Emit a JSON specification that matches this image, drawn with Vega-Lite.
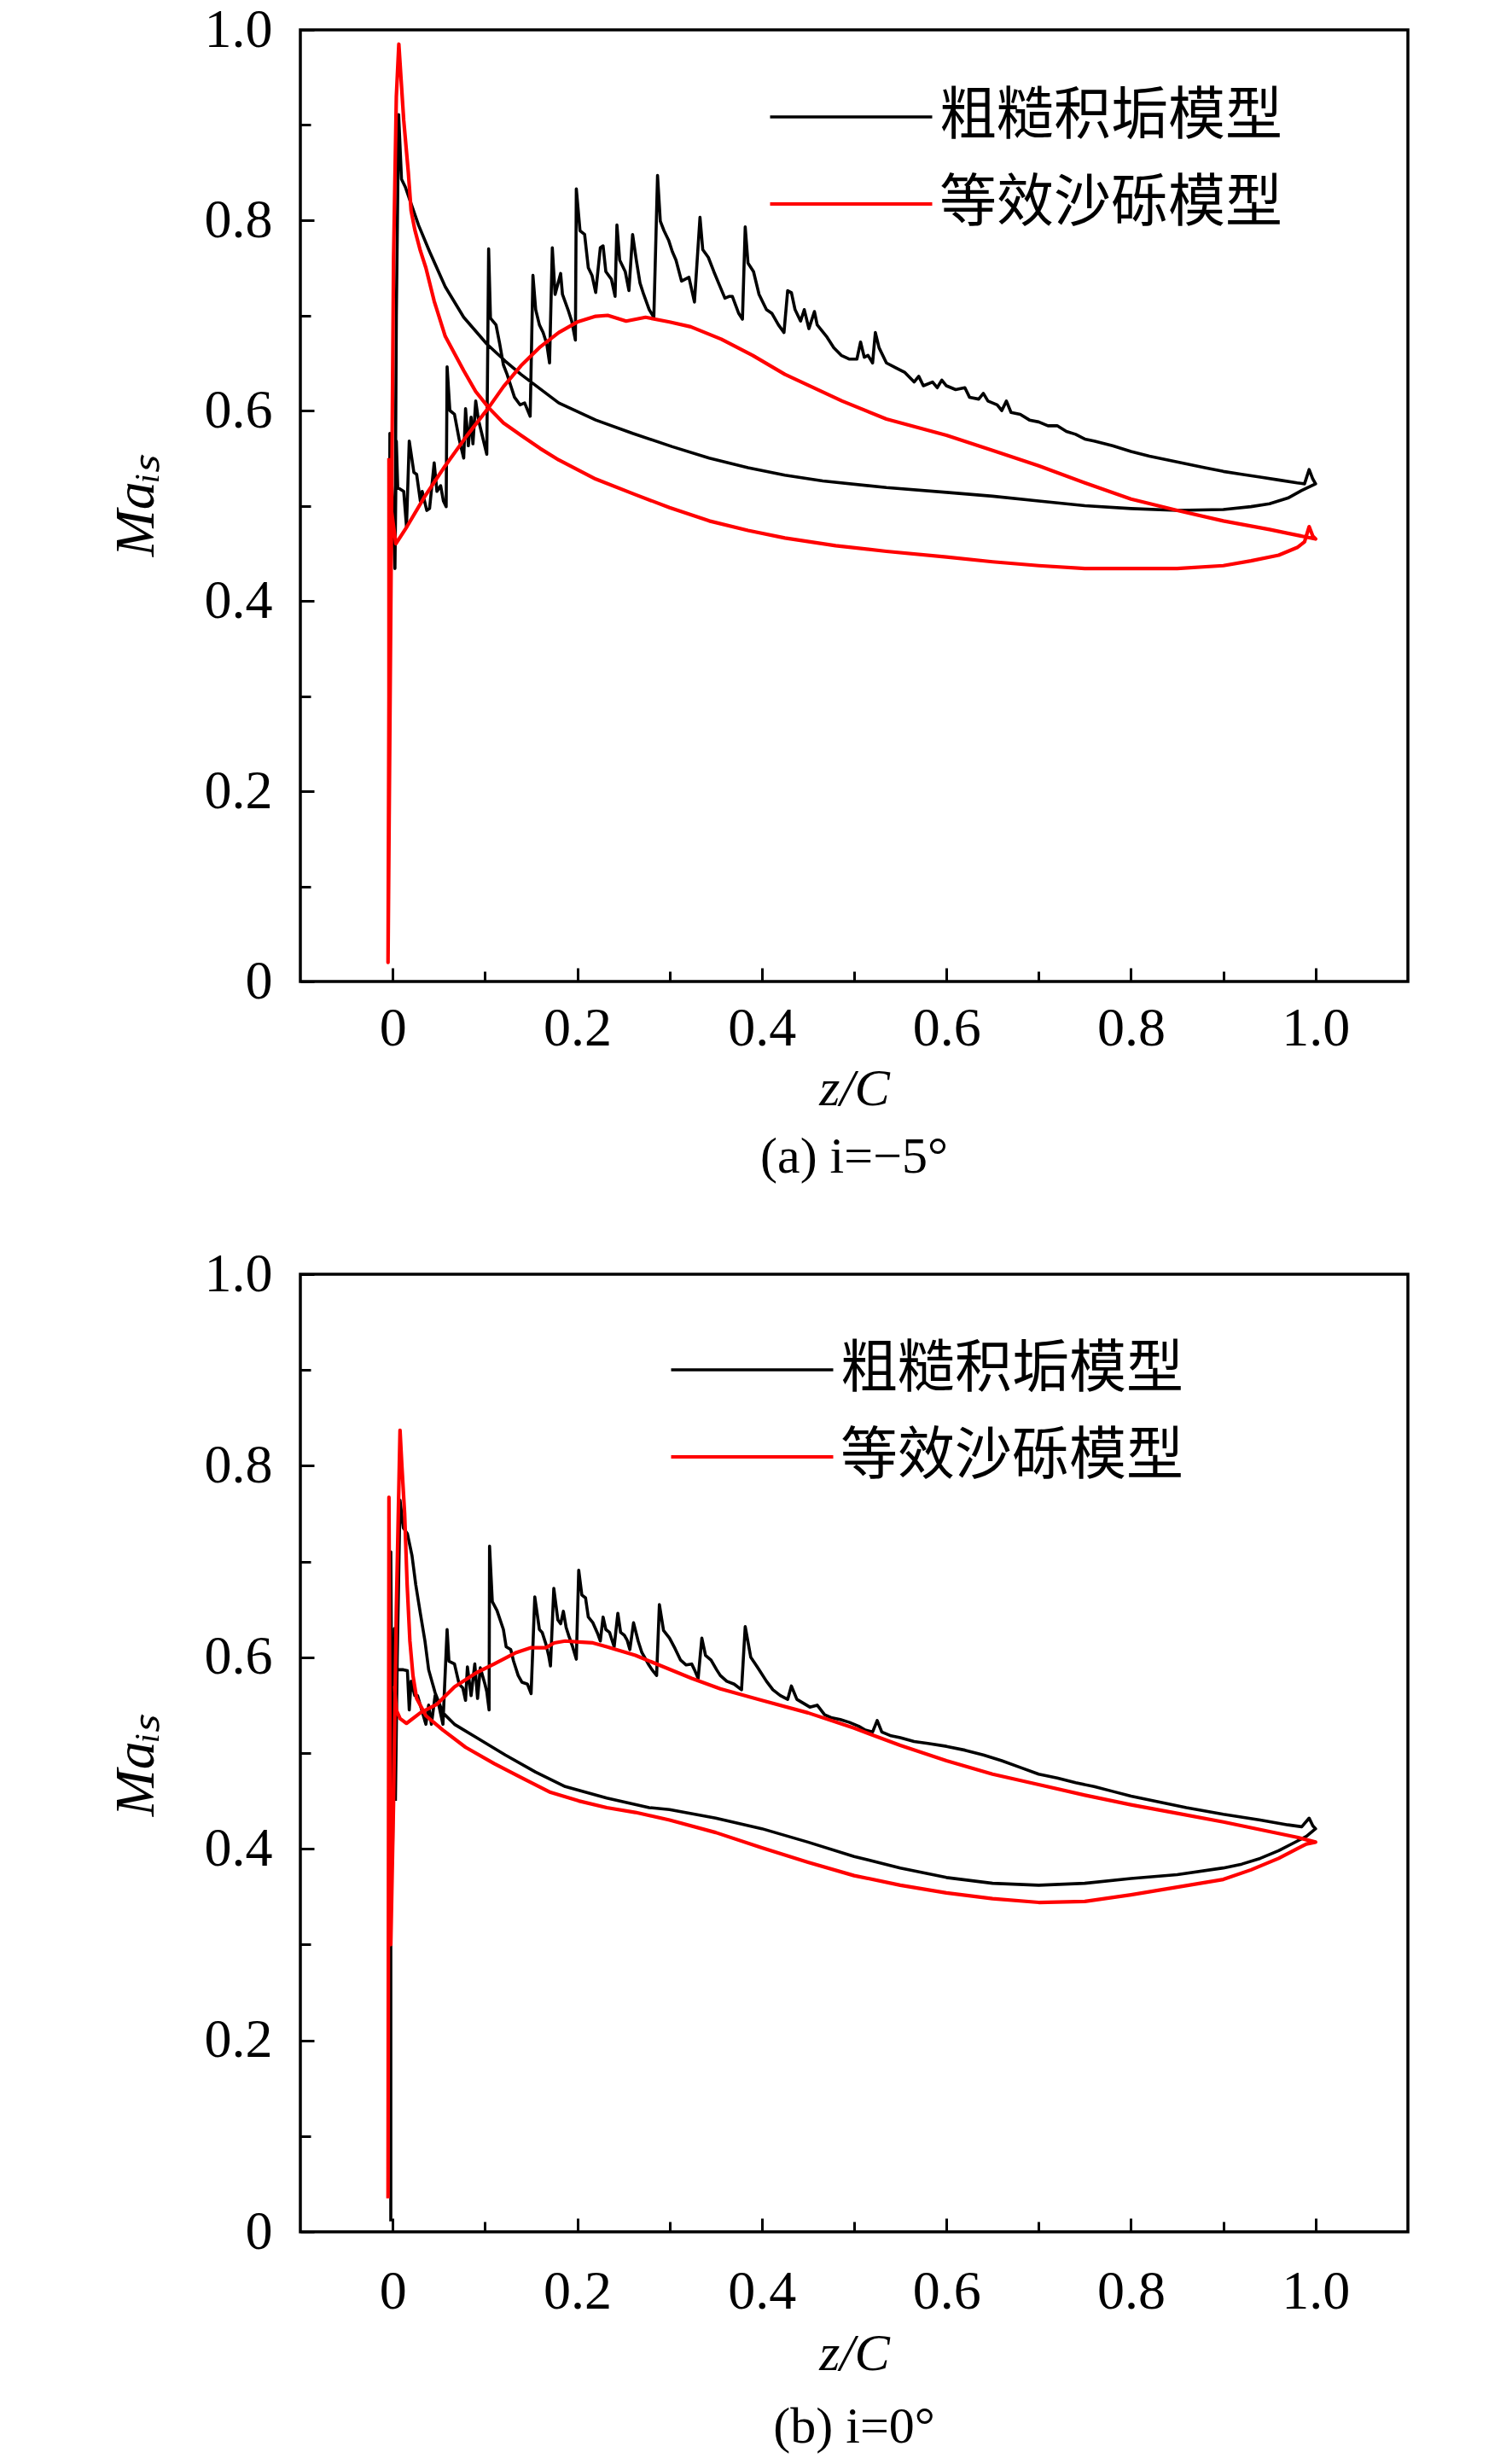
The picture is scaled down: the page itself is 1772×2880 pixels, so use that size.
{
  "$schema": "https://vega.github.io/schema/vega-lite/v6.json",
  "description": "Isentropic Mach number distribution, rough deposit model vs equivalent sand-grain model",
  "padding": {"left": 124, "top": 1, "right": 0, "bottom": 0},
  "background": "white",
  "bounds": "flush",
  "spacing": 343,
  "config": {
    "view": {"stroke": "black", "strokeWidth": 3.5},
    "axis": {
      "domain": false, "grid": false, "labelFlush": false,
      "labelFont": "Liberation Serif", "labelFontSize": 64, "labelColor": "black",
      "tickColor": "black", "tickWidth": 3,
      "titleFont": "Liberation Serif", "titleFontSize": 62, "titleFontWeight": "normal",
      "titleFontStyle": "italic", "titleColor": "black"
    },
    "legend": {
      "title": null, "orient": "none", "padding": 0,
      "symbolType": "stroke", "symbolSize": 36100, "symbolStrokeWidth": 4,
      "clipHeight": 40, "rowPadding": 35, "labelOffset": 6, "labelLimit": 1000,
      "labelFont": "Noto Sans CJK SC", "labelFontSize": 67, "labelColor": "black"
    },
    "title": {"font": "Liberation Serif", "fontSize": 60, "fontWeight": "normal", "color": "black"}
  },
  "resolve": {"scale": {"color": "independent", "strokeWidth": "independent"}},
  "datasets": {
    "pa": [
      {"m":"粗糙积垢模型","i":0,"z":-0.004,"ma":0.17},{"m":"粗糙积垢模型","i":1,"z":-0.003,"ma":0.576},{"m":"粗糙积垢模型","i":2,"z":0.0025,"ma":0.434},{"m":"粗糙积垢模型","i":3,"z":0.004,"ma":0.568},{"m":"粗糙积垢模型","i":4,"z":0.0055,"ma":0.519},{"m":"粗糙积垢模型","i":5,"z":0.012,"ma":0.515},{"m":"粗糙积垢模型","i":6,"z":0.015,"ma":0.478},{"m":"粗糙积垢模型","i":7,"z":0.018,"ma":0.568},{"m":"粗糙积垢模型","i":8,"z":0.023,"ma":0.535},{"m":"粗糙积垢模型","i":9,"z":0.026,"ma":0.533},
      {"m":"粗糙积垢模型","i":10,"z":0.030,"ma":0.505},{"m":"粗糙积垢模型","i":11,"z":0.032,"ma":0.515},{"m":"粗糙积垢模型","i":12,"z":0.037,"ma":0.495},{"m":"粗糙积垢模型","i":13,"z":0.040,"ma":0.497},{"m":"粗糙积垢模型","i":14,"z":0.045,"ma":0.545},{"m":"粗糙积垢模型","i":15,"z":0.048,"ma":0.515},{"m":"粗糙积垢模型","i":16,"z":0.052,"ma":0.521},{"m":"粗糙积垢模型","i":17,"z":0.055,"ma":0.505},{"m":"粗糙积垢模型","i":18,"z":0.058,"ma":0.499},{"m":"粗糙积垢模型","i":19,"z":0.059,"ma":0.646},
      {"m":"粗糙积垢模型","i":20,"z":0.062,"ma":0.600},{"m":"粗糙积垢模型","i":21,"z":0.067,"ma":0.596},{"m":"粗糙积垢模型","i":22,"z":0.072,"ma":0.570},{"m":"粗糙积垢模型","i":23,"z":0.077,"ma":0.550},{"m":"粗糙积垢模型","i":24,"z":0.079,"ma":0.602},{"m":"粗糙积垢模型","i":25,"z":0.082,"ma":0.563},{"m":"粗糙积垢模型","i":26,"z":0.085,"ma":0.593},{"m":"粗糙积垢模型","i":27,"z":0.087,"ma":0.565},{"m":"粗糙积垢模型","i":28,"z":0.090,"ma":0.610},{"m":"粗糙积垢模型","i":29,"z":0.093,"ma":0.590},
      {"m":"粗糙积垢模型","i":30,"z":0.097,"ma":0.574},{"m":"粗糙积垢模型","i":31,"z":0.102,"ma":0.554},{"m":"粗糙积垢模型","i":32,"z":0.104,"ma":0.770},{"m":"粗糙积垢模型","i":33,"z":0.106,"ma":0.697},{"m":"粗糙积垢模型","i":34,"z":0.112,"ma":0.690},{"m":"粗糙积垢模型","i":35,"z":0.116,"ma":0.670},{"m":"粗糙积垢模型","i":36,"z":0.120,"ma":0.648},{"m":"粗糙积垢模型","i":37,"z":0.124,"ma":0.638},{"m":"粗糙积垢模型","i":38,"z":0.128,"ma":0.626},{"m":"粗糙积垢模型","i":39,"z":0.132,"ma":0.614},
      {"m":"粗糙积垢模型","i":40,"z":0.138,"ma":0.606},{"m":"粗糙积垢模型","i":41,"z":0.143,"ma":0.608},{"m":"粗糙积垢模型","i":42,"z":0.149,"ma":0.594},{"m":"粗糙积垢模型","i":43,"z":0.152,"ma":0.742},{"m":"粗糙积垢模型","i":44,"z":0.155,"ma":0.706},{"m":"粗糙积垢模型","i":45,"z":0.159,"ma":0.690},{"m":"粗糙积垢模型","i":46,"z":0.163,"ma":0.682},{"m":"粗糙积垢模型","i":47,"z":0.167,"ma":0.670},{"m":"粗糙积垢模型","i":48,"z":0.170,"ma":0.650},{"m":"粗糙积垢模型","i":49,"z":0.173,"ma":0.771},
      {"m":"粗糙积垢模型","i":50,"z":0.176,"ma":0.722},{"m":"粗糙积垢模型","i":51,"z":0.182,"ma":0.744},{"m":"粗糙积垢模型","i":52,"z":0.184,"ma":0.722},{"m":"粗糙积垢模型","i":53,"z":0.190,"ma":0.706},{"m":"粗糙积垢模型","i":54,"z":0.194,"ma":0.694},{"m":"粗糙积垢模型","i":55,"z":0.198,"ma":0.674},{"m":"粗糙积垢模型","i":56,"z":0.199,"ma":0.833},{"m":"粗糙积垢模型","i":57,"z":0.203,"ma":0.789},{"m":"粗糙积垢模型","i":58,"z":0.208,"ma":0.785},{"m":"粗糙积垢模型","i":59,"z":0.212,"ma":0.750},
      {"m":"粗糙积垢模型","i":60,"z":0.216,"ma":0.742},{"m":"粗糙积垢模型","i":61,"z":0.220,"ma":0.724},{"m":"粗糙积垢模型","i":62,"z":0.225,"ma":0.771},{"m":"粗糙积垢模型","i":63,"z":0.228,"ma":0.773},{"m":"粗糙积垢模型","i":64,"z":0.231,"ma":0.746},{"m":"粗糙积垢模型","i":65,"z":0.237,"ma":0.738},{"m":"粗糙积垢模型","i":66,"z":0.241,"ma":0.720},{"m":"粗糙积垢模型","i":67,"z":0.243,"ma":0.795},{"m":"粗糙积垢模型","i":68,"z":0.246,"ma":0.758},{"m":"粗糙积垢模型","i":69,"z":0.252,"ma":0.746},
      {"m":"粗糙积垢模型","i":70,"z":0.256,"ma":0.726},{"m":"粗糙积垢模型","i":71,"z":0.260,"ma":0.785},{"m":"粗糙积垢模型","i":72,"z":0.264,"ma":0.758},{"m":"粗糙积垢模型","i":73,"z":0.268,"ma":0.734},{"m":"粗糙积垢模型","i":74,"z":0.272,"ma":0.722},{"m":"粗糙积垢模型","i":75,"z":0.278,"ma":0.706},{"m":"粗糙积垢模型","i":76,"z":0.283,"ma":0.698},{"m":"粗糙积垢模型","i":77,"z":0.287,"ma":0.847},{"m":"粗糙积垢模型","i":78,"z":0.290,"ma":0.799},{"m":"粗糙积垢模型","i":79,"z":0.294,"ma":0.789},
      {"m":"粗糙积垢模型","i":80,"z":0.299,"ma":0.779},{"m":"粗糙积垢模型","i":81,"z":0.303,"ma":0.767},{"m":"粗糙积垢模型","i":82,"z":0.307,"ma":0.758},{"m":"粗糙积垢模型","i":83,"z":0.313,"ma":0.736},{"m":"粗糙积垢模型","i":84,"z":0.317,"ma":0.738},{"m":"粗糙积垢模型","i":85,"z":0.321,"ma":0.740},{"m":"粗糙积垢模型","i":86,"z":0.327,"ma":0.714},{"m":"粗糙积垢模型","i":87,"z":0.333,"ma":0.803},{"m":"粗糙积垢模型","i":88,"z":0.336,"ma":0.769},{"m":"粗糙积垢模型","i":89,"z":0.342,"ma":0.761},
      {"m":"粗糙积垢模型","i":90,"z":0.348,"ma":0.746},{"m":"粗糙积垢模型","i":91,"z":0.354,"ma":0.732},{"m":"粗糙积垢模型","i":92,"z":0.360,"ma":0.718},{"m":"粗糙积垢模型","i":93,"z":0.365,"ma":0.720},{"m":"粗糙积垢模型","i":94,"z":0.368,"ma":0.720},{"m":"粗糙积垢模型","i":95,"z":0.375,"ma":0.702},{"m":"粗糙积垢模型","i":96,"z":0.379,"ma":0.696},{"m":"粗糙积垢模型","i":97,"z":0.382,"ma":0.793},{"m":"粗糙积垢模型","i":98,"z":0.385,"ma":0.755},{"m":"粗糙积垢模型","i":99,"z":0.391,"ma":0.746},
      {"m":"粗糙积垢模型","i":100,"z":0.397,"ma":0.722},{"m":"粗糙积垢模型","i":101,"z":0.405,"ma":0.706},{"m":"粗糙积垢模型","i":102,"z":0.411,"ma":0.702},{"m":"粗糙积垢模型","i":103,"z":0.418,"ma":0.690},{"m":"粗糙积垢模型","i":104,"z":0.424,"ma":0.682},{"m":"粗糙积垢模型","i":105,"z":0.428,"ma":0.726},{"m":"粗糙积垢模型","i":106,"z":0.432,"ma":0.724},{"m":"粗糙积垢模型","i":107,"z":0.436,"ma":0.706},{"m":"粗糙积垢模型","i":108,"z":0.442,"ma":0.694},{"m":"粗糙积垢模型","i":109,"z":0.446,"ma":0.706},
      {"m":"粗糙积垢模型","i":110,"z":0.451,"ma":0.686},{"m":"粗糙积垢模型","i":111,"z":0.457,"ma":0.704},{"m":"粗糙积垢模型","i":112,"z":0.460,"ma":0.690},{"m":"粗糙积垢模型","i":113,"z":0.470,"ma":0.678},{"m":"粗糙积垢模型","i":114,"z":0.478,"ma":0.666},{"m":"粗糙积垢模型","i":115,"z":0.486,"ma":0.658},{"m":"粗糙积垢模型","i":116,"z":0.495,"ma":0.654},{"m":"粗糙积垢模型","i":117,"z":0.503,"ma":0.654},{"m":"粗糙积垢模型","i":118,"z":0.507,"ma":0.672},{"m":"粗糙积垢模型","i":119,"z":0.511,"ma":0.656},
      {"m":"粗糙积垢模型","i":120,"z":0.515,"ma":0.658},{"m":"粗糙积垢模型","i":121,"z":0.520,"ma":0.650},{"m":"粗糙积垢模型","i":122,"z":0.523,"ma":0.682},{"m":"粗糙积垢模型","i":123,"z":0.527,"ma":0.666},{"m":"粗糙积垢模型","i":124,"z":0.535,"ma":0.650},{"m":"粗糙积垢模型","i":125,"z":0.545,"ma":0.645},{"m":"粗糙积垢模型","i":126,"z":0.555,"ma":0.640},{"m":"粗糙积垢模型","i":127,"z":0.565,"ma":0.630},{"m":"粗糙积垢模型","i":128,"z":0.570,"ma":0.636},{"m":"粗糙积垢模型","i":129,"z":0.575,"ma":0.626},
      {"m":"粗糙积垢模型","i":130,"z":0.585,"ma":0.630},{"m":"粗糙积垢模型","i":131,"z":0.590,"ma":0.624},{"m":"粗糙积垢模型","i":132,"z":0.595,"ma":0.632},{"m":"粗糙积垢模型","i":133,"z":0.600,"ma":0.626},{"m":"粗糙积垢模型","i":134,"z":0.610,"ma":0.622},{"m":"粗糙积垢模型","i":135,"z":0.620,"ma":0.624},{"m":"粗糙积垢模型","i":136,"z":0.625,"ma":0.614},{"m":"粗糙积垢模型","i":137,"z":0.635,"ma":0.612},{"m":"粗糙积垢模型","i":138,"z":0.640,"ma":0.618},{"m":"粗糙积垢模型","i":139,"z":0.645,"ma":0.610},
      {"m":"粗糙积垢模型","i":140,"z":0.655,"ma":0.606},{"m":"粗糙积垢模型","i":141,"z":0.660,"ma":0.600},{"m":"粗糙积垢模型","i":142,"z":0.665,"ma":0.610},{"m":"粗糙积垢模型","i":143,"z":0.670,"ma":0.598},{"m":"粗糙积垢模型","i":144,"z":0.680,"ma":0.596},{"m":"粗糙积垢模型","i":145,"z":0.690,"ma":0.590},{"m":"粗糙积垢模型","i":146,"z":0.700,"ma":0.588},{"m":"粗糙积垢模型","i":147,"z":0.710,"ma":0.584},{"m":"粗糙积垢模型","i":148,"z":0.720,"ma":0.584},{"m":"粗糙积垢模型","i":149,"z":0.730,"ma":0.578},
      {"m":"粗糙积垢模型","i":150,"z":0.740,"ma":0.575},{"m":"粗糙积垢模型","i":151,"z":0.750,"ma":0.570},{"m":"粗糙积垢模型","i":152,"z":0.760,"ma":0.568},{"m":"粗糙积垢模型","i":153,"z":0.780,"ma":0.563},{"m":"粗糙积垢模型","i":154,"z":0.800,"ma":0.557},{"m":"粗糙积垢模型","i":155,"z":0.820,"ma":0.552},{"m":"粗糙积垢模型","i":156,"z":0.840,"ma":0.548},{"m":"粗糙积垢模型","i":157,"z":0.860,"ma":0.544},{"m":"粗糙积垢模型","i":158,"z":0.880,"ma":0.540},{"m":"粗糙积垢模型","i":159,"z":0.900,"ma":0.536},
      {"m":"粗糙积垢模型","i":160,"z":0.920,"ma":0.533},{"m":"粗糙积垢模型","i":161,"z":0.940,"ma":0.530},{"m":"粗糙积垢模型","i":162,"z":0.960,"ma":0.527},{"m":"粗糙积垢模型","i":163,"z":0.980,"ma":0.524},{"m":"粗糙积垢模型","i":164,"z":0.988,"ma":0.523},{"m":"粗糙积垢模型","i":165,"z":0.993,"ma":0.538},{"m":"粗糙积垢模型","i":166,"z":0.997,"ma":0.528},{"m":"粗糙积垢模型","i":167,"z":1.000,"ma":0.523},{"m":"粗糙积垢模型","i":168,"z":0.985,"ma":0.516},{"m":"粗糙积垢模型","i":169,"z":0.970,"ma":0.508},
      {"m":"粗糙积垢模型","i":170,"z":0.950,"ma":0.502},{"m":"粗糙积垢模型","i":171,"z":0.930,"ma":0.499},{"m":"粗糙积垢模型","i":172,"z":0.900,"ma":0.496},{"m":"粗糙积垢模型","i":173,"z":0.850,"ma":0.495},{"m":"粗糙积垢模型","i":174,"z":0.800,"ma":0.497},{"m":"粗糙积垢模型","i":175,"z":0.750,"ma":0.500},{"m":"粗糙积垢模型","i":176,"z":0.700,"ma":0.505},{"m":"粗糙积垢模型","i":177,"z":0.650,"ma":0.510},{"m":"粗糙积垢模型","i":178,"z":0.600,"ma":0.514},{"m":"粗糙积垢模型","i":179,"z":0.535,"ma":0.519},
      {"m":"粗糙积垢模型","i":180,"z":0.466,"ma":0.526},{"m":"粗糙积垢模型","i":181,"z":0.425,"ma":0.532},{"m":"粗糙积垢模型","i":182,"z":0.385,"ma":0.540},{"m":"粗糙积垢模型","i":183,"z":0.343,"ma":0.550},{"m":"粗糙积垢模型","i":184,"z":0.303,"ma":0.562},{"m":"粗糙积垢模型","i":185,"z":0.260,"ma":0.576},{"m":"粗糙积垢模型","i":186,"z":0.220,"ma":0.590},{"m":"粗糙积垢模型","i":187,"z":0.180,"ma":0.608},{"m":"粗糙积垢模型","i":188,"z":0.139,"ma":0.638},{"m":"粗糙积垢模型","i":189,"z":0.122,"ma":0.652},
      {"m":"粗糙积垢模型","i":190,"z":0.102,"ma":0.670},{"m":"粗糙积垢模型","i":191,"z":0.077,"ma":0.698},{"m":"粗糙积垢模型","i":192,"z":0.057,"ma":0.730},{"m":"粗糙积垢模型","i":193,"z":0.040,"ma":0.767},{"m":"粗糙积垢模型","i":194,"z":0.028,"ma":0.795},{"m":"粗糙积垢模型","i":195,"z":0.018,"ma":0.823},{"m":"粗糙积垢模型","i":196,"z":0.0137,"ma":0.835},{"m":"粗糙积垢模型","i":197,"z":0.0096,"ma":0.843},{"m":"粗糙积垢模型","i":198,"z":0.0065,"ma":0.911},{"m":"粗糙积垢模型","i":199,"z":0.004,"ma":0.700},
      {"m":"粗糙积垢模型","i":200,"z":0.0025,"ma":0.434},
      {"m":"等效沙砾模型","i":0,"z":-0.004,"ma":0.55},{"m":"等效沙砾模型","i":1,"z":-0.004,"ma":0.30},{"m":"等效沙砾模型","i":2,"z":-0.005,"ma":0.02},{"m":"等效沙砾模型","i":3,"z":0.001,"ma":0.76},{"m":"等效沙砾模型","i":4,"z":0.004,"ma":0.93},{"m":"等效沙砾模型","i":5,"z":0.0067,"ma":0.985},{"m":"等效沙砾模型","i":6,"z":0.009,"ma":0.95},{"m":"等效沙砾模型","i":7,"z":0.012,"ma":0.905},{"m":"等效沙砾模型","i":8,"z":0.017,"ma":0.85},{"m":"等效沙砾模型","i":9,"z":0.020,"ma":0.81},
      {"m":"等效沙砾模型","i":10,"z":0.024,"ma":0.79},{"m":"等效沙砾模型","i":11,"z":0.030,"ma":0.768},{"m":"等效沙砾模型","i":12,"z":0.036,"ma":0.75},{"m":"等效沙砾模型","i":13,"z":0.045,"ma":0.715},{"m":"等效沙砾模型","i":14,"z":0.057,"ma":0.678},{"m":"等效沙砾模型","i":15,"z":0.077,"ma":0.642},{"m":"等效沙砾模型","i":16,"z":0.090,"ma":0.62},{"m":"等效沙砾模型","i":17,"z":0.104,"ma":0.603},{"m":"等效沙砾模型","i":18,"z":0.120,"ma":0.587},{"m":"等效沙砾模型","i":19,"z":0.139,"ma":0.574},
      {"m":"等效沙砾模型","i":20,"z":0.160,"ma":0.56},{"m":"等效沙砾模型","i":21,"z":0.180,"ma":0.548},{"m":"等效沙砾模型","i":22,"z":0.220,"ma":0.528},{"m":"等效沙砾模型","i":23,"z":0.262,"ma":0.512},{"m":"等效沙砾模型","i":24,"z":0.300,"ma":0.498},{"m":"等效沙砾模型","i":25,"z":0.343,"ma":0.484},{"m":"等效沙砾模型","i":26,"z":0.385,"ma":0.474},{"m":"等效沙砾模型","i":27,"z":0.425,"ma":0.466},{"m":"等效沙砾模型","i":28,"z":0.480,"ma":0.458},{"m":"等效沙砾模型","i":29,"z":0.535,"ma":0.452},
      {"m":"等效沙砾模型","i":30,"z":0.600,"ma":0.446},{"m":"等效沙砾模型","i":31,"z":0.650,"ma":0.441},{"m":"等效沙砾模型","i":32,"z":0.700,"ma":0.437},{"m":"等效沙砾模型","i":33,"z":0.750,"ma":0.434},{"m":"等效沙砾模型","i":34,"z":0.800,"ma":0.434},{"m":"等效沙砾模型","i":35,"z":0.850,"ma":0.434},{"m":"等效沙砾模型","i":36,"z":0.900,"ma":0.437},{"m":"等效沙砾模型","i":37,"z":0.930,"ma":0.442},{"m":"等效沙砾模型","i":38,"z":0.960,"ma":0.448},{"m":"等效沙砾模型","i":39,"z":0.980,"ma":0.456},
      {"m":"等效沙砾模型","i":40,"z":0.988,"ma":0.462},{"m":"等效沙砾模型","i":41,"z":0.993,"ma":0.478},{"m":"等效沙砾模型","i":42,"z":0.997,"ma":0.468},{"m":"等效沙砾模型","i":43,"z":1.000,"ma":0.465},{"m":"等效沙砾模型","i":44,"z":0.970,"ma":0.471},{"m":"等效沙砾模型","i":45,"z":0.950,"ma":0.475},{"m":"等效沙砾模型","i":46,"z":0.900,"ma":0.484},{"m":"等效沙砾模型","i":47,"z":0.850,"ma":0.495},{"m":"等效沙砾模型","i":48,"z":0.800,"ma":0.507},{"m":"等效沙砾模型","i":49,"z":0.750,"ma":0.524},
      {"m":"等效沙砾模型","i":50,"z":0.700,"ma":0.542},{"m":"等效沙砾模型","i":51,"z":0.650,"ma":0.558},{"m":"等效沙砾模型","i":52,"z":0.600,"ma":0.574},{"m":"等效沙砾模型","i":53,"z":0.535,"ma":0.591},{"m":"等效沙砾模型","i":54,"z":0.487,"ma":0.610},{"m":"等效沙砾模型","i":55,"z":0.425,"ma":0.638},{"m":"等效沙砾模型","i":56,"z":0.390,"ma":0.658},{"m":"等效沙砾模型","i":57,"z":0.356,"ma":0.675},{"m":"等效沙砾模型","i":58,"z":0.323,"ma":0.688},{"m":"等效沙砾模型","i":59,"z":0.300,"ma":0.693},
      {"m":"等效沙砾模型","i":60,"z":0.274,"ma":0.698},{"m":"等效沙砾模型","i":61,"z":0.253,"ma":0.694},{"m":"等效沙砾模型","i":62,"z":0.233,"ma":0.700},{"m":"等效沙砾模型","i":63,"z":0.220,"ma":0.699},{"m":"等效沙砾模型","i":64,"z":0.200,"ma":0.693},{"m":"等效沙砾模型","i":65,"z":0.180,"ma":0.682},{"m":"等效沙砾模型","i":66,"z":0.160,"ma":0.667},{"m":"等效沙砾模型","i":67,"z":0.139,"ma":0.647},{"m":"等效沙砾模型","i":68,"z":0.120,"ma":0.625},{"m":"等效沙砾模型","i":69,"z":0.104,"ma":0.603},
      {"m":"等效沙砾模型","i":70,"z":0.080,"ma":0.573},{"m":"等效沙砾模型","i":71,"z":0.057,"ma":0.542},{"m":"等效沙砾模型","i":72,"z":0.035,"ma":0.510},{"m":"等效沙砾模型","i":73,"z":0.0155,"ma":0.478},{"m":"等效沙砾模型","i":74,"z":0.0035,"ma":0.46},{"m":"等效沙砾模型","i":75,"z":-0.002,"ma":0.50}
    ],
    "pb": [
      {"m":"粗糙积垢模型","i":0,"z":-0.002,"ma":0.011},{"m":"粗糙积垢模型","i":1,"z":-0.002,"ma":0.71},{"m":"粗糙积垢模型","i":2,"z":0.0,"ma":0.40},{"m":"粗糙积垢模型","i":3,"z":0.002,"ma":0.63},{"m":"粗糙积垢模型","i":4,"z":0.005,"ma":0.587},{"m":"粗糙积垢模型","i":5,"z":0.0116,"ma":0.587},{"m":"粗糙积垢模型","i":6,"z":0.016,"ma":0.586},{"m":"粗糙积垢模型","i":7,"z":0.018,"ma":0.545},{"m":"粗糙积垢模型","i":8,"z":0.020,"ma":0.575},{"m":"粗糙积垢模型","i":9,"z":0.024,"ma":0.560},
      {"m":"粗糙积垢模型","i":10,"z":0.027,"ma":0.560},{"m":"粗糙积垢模型","i":11,"z":0.030,"ma":0.550},{"m":"粗糙积垢模型","i":12,"z":0.036,"ma":0.530},{"m":"粗糙积垢模型","i":13,"z":0.039,"ma":0.550},{"m":"粗糙积垢模型","i":14,"z":0.042,"ma":0.530},{"m":"粗糙积垢模型","i":15,"z":0.046,"ma":0.560},{"m":"粗糙积垢模型","i":16,"z":0.050,"ma":0.550},{"m":"粗糙积垢模型","i":17,"z":0.0545,"ma":0.530},{"m":"粗糙积垢模型","i":18,"z":0.059,"ma":0.629},{"m":"粗糙积垢模型","i":19,"z":0.061,"ma":0.596},
      {"m":"粗糙积垢模型","i":20,"z":0.067,"ma":0.593},{"m":"粗糙积垢模型","i":21,"z":0.072,"ma":0.572},{"m":"粗糙积垢模型","i":22,"z":0.076,"ma":0.568},{"m":"粗糙积垢模型","i":23,"z":0.079,"ma":0.555},{"m":"粗糙积垢模型","i":24,"z":0.081,"ma":0.590},{"m":"粗糙积垢模型","i":25,"z":0.085,"ma":0.560},{"m":"粗糙积垢模型","i":26,"z":0.089,"ma":0.593},{"m":"粗糙积垢模型","i":27,"z":0.092,"ma":0.557},{"m":"粗糙积垢模型","i":28,"z":0.095,"ma":0.589},{"m":"粗糙积垢模型","i":29,"z":0.100,"ma":0.572},
      {"m":"粗糙积垢模型","i":30,"z":0.102,"ma":0.564},{"m":"粗糙积垢模型","i":31,"z":0.1045,"ma":0.545},{"m":"粗糙积垢模型","i":32,"z":0.105,"ma":0.716},{"m":"粗糙积垢模型","i":33,"z":0.108,"ma":0.658},{"m":"粗糙积垢模型","i":34,"z":0.113,"ma":0.649},{"m":"粗糙积垢模型","i":35,"z":0.120,"ma":0.629},{"m":"粗糙积垢模型","i":36,"z":0.123,"ma":0.611},{"m":"粗糙积垢模型","i":37,"z":0.128,"ma":0.608},{"m":"粗糙积垢模型","i":38,"z":0.131,"ma":0.596},{"m":"粗糙积垢模型","i":39,"z":0.136,"ma":0.581},
      {"m":"粗糙积垢模型","i":40,"z":0.140,"ma":0.574},{"m":"粗糙积垢模型","i":41,"z":0.146,"ma":0.572},{"m":"粗糙积垢模型","i":42,"z":0.150,"ma":0.562},{"m":"粗糙积垢模型","i":43,"z":0.154,"ma":0.663},{"m":"粗糙积垢模型","i":44,"z":0.159,"ma":0.629},{"m":"粗糙积垢模型","i":45,"z":0.162,"ma":0.626},{"m":"粗糙积垢模型","i":46,"z":0.166,"ma":0.614},{"m":"粗糙积垢模型","i":47,"z":0.169,"ma":0.602},{"m":"粗糙积垢模型","i":48,"z":0.171,"ma":0.591},{"m":"粗糙积垢模型","i":49,"z":0.1746,"ma":0.672},
      {"m":"粗糙积垢模型","i":50,"z":0.179,"ma":0.639},{"m":"粗糙积垢模型","i":51,"z":0.182,"ma":0.635},{"m":"粗糙积垢模型","i":52,"z":0.185,"ma":0.648},{"m":"粗糙积垢模型","i":53,"z":0.188,"ma":0.631},{"m":"粗糙积垢模型","i":54,"z":0.191,"ma":0.622},{"m":"粗糙积垢模型","i":55,"z":0.195,"ma":0.611},{"m":"粗糙积垢模型","i":56,"z":0.199,"ma":0.598},{"m":"粗糙积垢模型","i":57,"z":0.2016,"ma":0.691},{"m":"粗糙积垢模型","i":58,"z":0.205,"ma":0.665},{"m":"粗糙积垢模型","i":59,"z":0.209,"ma":0.662},
      {"m":"粗糙积垢模型","i":60,"z":0.212,"ma":0.642},{"m":"粗糙积垢模型","i":61,"z":0.217,"ma":0.636},{"m":"粗糙积垢模型","i":62,"z":0.222,"ma":0.625},{"m":"粗糙积垢模型","i":63,"z":0.225,"ma":0.617},{"m":"粗糙积垢模型","i":64,"z":0.228,"ma":0.642},{"m":"粗糙积垢模型","i":65,"z":0.231,"ma":0.629},{"m":"粗糙积垢模型","i":66,"z":0.235,"ma":0.626},{"m":"粗糙积垢模型","i":67,"z":0.240,"ma":0.611},{"m":"粗糙积垢模型","i":68,"z":0.244,"ma":0.646},{"m":"粗糙积垢模型","i":69,"z":0.247,"ma":0.626},
      {"m":"粗糙积垢模型","i":70,"z":0.251,"ma":0.623},{"m":"粗糙积垢模型","i":71,"z":0.254,"ma":0.618},{"m":"粗糙积垢模型","i":72,"z":0.257,"ma":0.608},{"m":"粗糙积垢模型","i":73,"z":0.261,"ma":0.636},{"m":"粗糙积垢模型","i":74,"z":0.266,"ma":0.617},{"m":"粗糙积垢模型","i":75,"z":0.270,"ma":0.605},{"m":"粗糙积垢模型","i":76,"z":0.277,"ma":0.593},{"m":"粗糙积垢模型","i":77,"z":0.281,"ma":0.587},{"m":"粗糙积垢模型","i":78,"z":0.286,"ma":0.581},{"m":"粗糙积垢模型","i":79,"z":0.289,"ma":0.655},
      {"m":"粗糙积垢模型","i":80,"z":0.2935,"ma":0.628},{"m":"粗糙积垢模型","i":81,"z":0.300,"ma":0.620},{"m":"粗糙积垢模型","i":82,"z":0.306,"ma":0.609},{"m":"粗糙积垢模型","i":83,"z":0.312,"ma":0.597},{"m":"粗糙积垢模型","i":84,"z":0.318,"ma":0.592},{"m":"粗糙积垢模型","i":85,"z":0.324,"ma":0.593},{"m":"粗糙积垢模型","i":86,"z":0.327,"ma":0.587},{"m":"粗糙积垢模型","i":87,"z":0.331,"ma":0.578},{"m":"粗糙积垢模型","i":88,"z":0.335,"ma":0.620},{"m":"粗糙积垢模型","i":89,"z":0.339,"ma":0.602},
      {"m":"粗糙积垢模型","i":90,"z":0.345,"ma":0.597},{"m":"粗糙积垢模型","i":91,"z":0.351,"ma":0.587},{"m":"粗糙积垢模型","i":92,"z":0.355,"ma":0.581},{"m":"粗糙积垢模型","i":93,"z":0.362,"ma":0.575},{"m":"粗糙积垢模型","i":94,"z":0.370,"ma":0.572},{"m":"粗糙积垢模型","i":95,"z":0.378,"ma":0.566},{"m":"粗糙积垢模型","i":96,"z":0.382,"ma":0.632},{"m":"粗糙积垢模型","i":97,"z":0.388,"ma":0.600},{"m":"粗糙积垢模型","i":98,"z":0.395,"ma":0.590},{"m":"粗糙积垢模型","i":99,"z":0.405,"ma":0.575},
      {"m":"粗糙积垢模型","i":100,"z":0.412,"ma":0.566},{"m":"粗糙积垢模型","i":101,"z":0.420,"ma":0.560},{"m":"粗糙积垢模型","i":102,"z":0.428,"ma":0.556},{"m":"粗糙积垢模型","i":103,"z":0.432,"ma":0.570},{"m":"粗糙积垢模型","i":104,"z":0.438,"ma":0.556},{"m":"粗糙积垢模型","i":105,"z":0.445,"ma":0.552},{"m":"粗糙积垢模型","i":106,"z":0.452,"ma":0.548},{"m":"粗糙积垢模型","i":107,"z":0.460,"ma":0.550},{"m":"粗糙积垢模型","i":108,"z":0.468,"ma":0.540},{"m":"粗糙积垢模型","i":109,"z":0.475,"ma":0.537},
      {"m":"粗糙积垢模型","i":110,"z":0.485,"ma":0.535},{"m":"粗糙积垢模型","i":111,"z":0.495,"ma":0.532},{"m":"粗糙积垢模型","i":112,"z":0.505,"ma":0.528},{"m":"粗糙积垢模型","i":113,"z":0.512,"ma":0.524},{"m":"粗糙积垢模型","i":114,"z":0.520,"ma":0.522},{"m":"粗糙积垢模型","i":115,"z":0.525,"ma":0.534},{"m":"粗糙积垢模型","i":116,"z":0.530,"ma":0.522},{"m":"粗糙积垢模型","i":117,"z":0.540,"ma":0.518},{"m":"粗糙积垢模型","i":118,"z":0.550,"ma":0.516},{"m":"粗糙积垢模型","i":119,"z":0.565,"ma":0.512},
      {"m":"粗糙积垢模型","i":120,"z":0.580,"ma":0.510},{"m":"粗糙积垢模型","i":121,"z":0.600,"ma":0.507},{"m":"粗糙积垢模型","i":122,"z":0.620,"ma":0.503},{"m":"粗糙积垢模型","i":123,"z":0.640,"ma":0.498},{"m":"粗糙积垢模型","i":124,"z":0.660,"ma":0.492},{"m":"粗糙积垢模型","i":125,"z":0.680,"ma":0.485},{"m":"粗糙积垢模型","i":126,"z":0.700,"ma":0.478},{"m":"粗糙积垢模型","i":127,"z":0.720,"ma":0.474},{"m":"粗糙积垢模型","i":128,"z":0.740,"ma":0.469},{"m":"粗糙积垢模型","i":129,"z":0.760,"ma":0.465},
      {"m":"粗糙积垢模型","i":130,"z":0.780,"ma":0.460},{"m":"粗糙积垢模型","i":131,"z":0.800,"ma":0.455},{"m":"粗糙积垢模型","i":132,"z":0.830,"ma":0.449},{"m":"粗糙积垢模型","i":133,"z":0.860,"ma":0.443},{"m":"粗糙积垢模型","i":134,"z":0.900,"ma":0.436},{"m":"粗糙积垢模型","i":135,"z":0.940,"ma":0.430},{"m":"粗糙积垢模型","i":136,"z":0.970,"ma":0.425},{"m":"粗糙积垢模型","i":137,"z":0.985,"ma":0.423},{"m":"粗糙积垢模型","i":138,"z":0.993,"ma":0.432},{"m":"粗糙积垢模型","i":139,"z":0.997,"ma":0.424},
      {"m":"粗糙积垢模型","i":140,"z":1.000,"ma":0.421},{"m":"粗糙积垢模型","i":141,"z":0.990,"ma":0.413},{"m":"粗糙积垢模型","i":142,"z":0.980,"ma":0.408},{"m":"粗糙积垢模型","i":143,"z":0.960,"ma":0.398},{"m":"粗糙积垢模型","i":144,"z":0.940,"ma":0.390},{"m":"粗糙积垢模型","i":145,"z":0.920,"ma":0.384},{"m":"粗糙积垢模型","i":146,"z":0.900,"ma":0.380},{"m":"粗糙积垢模型","i":147,"z":0.850,"ma":0.373},{"m":"粗糙积垢模型","i":148,"z":0.800,"ma":0.369},{"m":"粗糙积垢模型","i":149,"z":0.750,"ma":0.364},
      {"m":"粗糙积垢模型","i":150,"z":0.700,"ma":0.362},{"m":"粗糙积垢模型","i":151,"z":0.650,"ma":0.364},{"m":"粗糙积垢模型","i":152,"z":0.600,"ma":0.370},{"m":"粗糙积垢模型","i":153,"z":0.550,"ma":0.380},{"m":"粗糙积垢模型","i":154,"z":0.500,"ma":0.392},{"m":"粗糙积垢模型","i":155,"z":0.450,"ma":0.407},{"m":"粗糙积垢模型","i":156,"z":0.400,"ma":0.421},{"m":"粗糙积垢模型","i":157,"z":0.350,"ma":0.432},{"m":"粗糙积垢模型","i":158,"z":0.300,"ma":0.441},{"m":"粗糙积垢模型","i":159,"z":0.278,"ma":0.443},
      {"m":"粗糙积垢模型","i":160,"z":0.232,"ma":0.453},{"m":"粗糙积垢模型","i":161,"z":0.187,"ma":0.465},{"m":"粗糙积垢模型","i":162,"z":0.155,"ma":0.480},{"m":"粗糙积垢模型","i":163,"z":0.122,"ma":0.498},{"m":"粗糙积垢模型","i":164,"z":0.091,"ma":0.516},{"m":"粗糙积垢模型","i":165,"z":0.067,"ma":0.530},{"m":"粗糙积垢模型","i":166,"z":0.0545,"ma":0.542},{"m":"粗糙积垢模型","i":167,"z":0.046,"ma":0.563},{"m":"粗糙积垢模型","i":168,"z":0.039,"ma":0.587},{"m":"粗糙积垢模型","i":169,"z":0.035,"ma":0.617},
      {"m":"粗糙积垢模型","i":170,"z":0.030,"ma":0.646},{"m":"粗糙积垢模型","i":171,"z":0.025,"ma":0.676},{"m":"粗糙积垢模型","i":172,"z":0.021,"ma":0.706},{"m":"粗糙积垢模型","i":173,"z":0.016,"ma":0.729},{"m":"粗糙积垢模型","i":174,"z":0.0116,"ma":0.735},{"m":"粗糙积垢模型","i":175,"z":0.008,"ma":0.764},{"m":"粗糙积垢模型","i":176,"z":0.005,"ma":0.60},{"m":"粗糙积垢模型","i":177,"z":0.003,"ma":0.45},
      {"m":"等效沙砾模型","i":0,"z":-0.005,"ma":0.035},{"m":"等效沙砾模型","i":1,"z":-0.004,"ma":0.767},{"m":"等效沙砾模型","i":2,"z":-0.002,"ma":0.30},{"m":"等效沙砾模型","i":3,"z":0.001,"ma":0.45},{"m":"等效沙砾模型","i":4,"z":0.004,"ma":0.65},{"m":"等效沙砾模型","i":5,"z":0.008,"ma":0.837},{"m":"等效沙砾模型","i":6,"z":0.010,"ma":0.80},{"m":"等效沙砾模型","i":7,"z":0.013,"ma":0.75},{"m":"等效沙砾模型","i":8,"z":0.0157,"ma":0.676},{"m":"等效沙砾模型","i":9,"z":0.0187,"ma":0.617},
      {"m":"等效沙砾模型","i":10,"z":0.022,"ma":0.581},{"m":"等效沙砾模型","i":11,"z":0.026,"ma":0.557},{"m":"等效沙砾模型","i":12,"z":0.036,"ma":0.539},{"m":"等效沙砾模型","i":13,"z":0.0545,"ma":0.524},{"m":"等效沙砾模型","i":14,"z":0.079,"ma":0.506},{"m":"等效沙砾模型","i":15,"z":0.110,"ma":0.489},{"m":"等效沙砾模型","i":16,"z":0.140,"ma":0.474},{"m":"等效沙砾模型","i":17,"z":0.171,"ma":0.459},{"m":"等效沙砾模型","i":18,"z":0.2016,"ma":0.450},{"m":"等效沙砾模型","i":19,"z":0.232,"ma":0.443},
      {"m":"等效沙砾模型","i":20,"z":0.263,"ma":0.438},{"m":"等效沙砾模型","i":21,"z":0.300,"ma":0.430},{"m":"等效沙砾模型","i":22,"z":0.350,"ma":0.417},{"m":"等效沙砾模型","i":23,"z":0.400,"ma":0.401},{"m":"等效沙砾模型","i":24,"z":0.450,"ma":0.386},{"m":"等效沙砾模型","i":25,"z":0.500,"ma":0.372},{"m":"等效沙砾模型","i":26,"z":0.550,"ma":0.362},{"m":"等效沙砾模型","i":27,"z":0.600,"ma":0.354},{"m":"等效沙砾模型","i":28,"z":0.650,"ma":0.348},{"m":"等效沙砾模型","i":29,"z":0.700,"ma":0.344},
      {"m":"等效沙砾模型","i":30,"z":0.750,"ma":0.345},{"m":"等效沙砾模型","i":31,"z":0.800,"ma":0.352},{"m":"等效沙砾模型","i":32,"z":0.850,"ma":0.360},{"m":"等效沙砾模型","i":33,"z":0.900,"ma":0.368},{"m":"等效沙砾模型","i":34,"z":0.930,"ma":0.378},{"m":"等效沙砾模型","i":35,"z":0.960,"ma":0.390},{"m":"等效沙砾模型","i":36,"z":0.980,"ma":0.400},{"m":"等效沙砾模型","i":37,"z":0.990,"ma":0.405},{"m":"等效沙砾模型","i":38,"z":1.000,"ma":0.407},{"m":"等效沙砾模型","i":39,"z":0.980,"ma":0.412},
      {"m":"等效沙砾模型","i":40,"z":0.950,"ma":0.418},{"m":"等效沙砾模型","i":41,"z":0.900,"ma":0.428},{"m":"等效沙砾模型","i":42,"z":0.850,"ma":0.437},{"m":"等效沙砾模型","i":43,"z":0.800,"ma":0.446},{"m":"等效沙砾模型","i":44,"z":0.750,"ma":0.456},{"m":"等效沙砾模型","i":45,"z":0.700,"ma":0.467},{"m":"等效沙砾模型","i":46,"z":0.650,"ma":0.478},{"m":"等效沙砾模型","i":47,"z":0.600,"ma":0.492},{"m":"等效沙砾模型","i":48,"z":0.550,"ma":0.508},{"m":"等效沙砾模型","i":49,"z":0.500,"ma":0.526},
      {"m":"等效沙砾模型","i":50,"z":0.450,"ma":0.542},{"m":"等效沙砾模型","i":51,"z":0.400,"ma":0.555},{"m":"等效沙砾模型","i":52,"z":0.355,"ma":0.567},{"m":"等效沙砾模型","i":53,"z":0.324,"ma":0.578},{"m":"等效沙砾模型","i":54,"z":0.2935,"ma":0.590},{"m":"等效沙砾模型","i":55,"z":0.263,"ma":0.602},{"m":"等效沙砾模型","i":56,"z":0.232,"ma":0.611},{"m":"等效沙砾模型","i":57,"z":0.217,"ma":0.615},{"m":"等效沙砾模型","i":58,"z":0.2016,"ma":0.616},{"m":"等效沙砾模型","i":59,"z":0.187,"ma":0.617},
      {"m":"等效沙砾模型","i":60,"z":0.175,"ma":0.615},{"m":"等效沙砾模型","i":61,"z":0.166,"ma":0.610},{"m":"等效沙砾模型","i":62,"z":0.150,"ma":0.610},{"m":"等效沙砾模型","i":63,"z":0.134,"ma":0.605},{"m":"等效沙砾模型","i":64,"z":0.110,"ma":0.593},{"m":"等效沙砾模型","i":65,"z":0.091,"ma":0.584},{"m":"等效沙砾模型","i":66,"z":0.067,"ma":0.569},{"m":"等效沙砾模型","i":67,"z":0.048,"ma":0.551},{"m":"等效沙砾模型","i":68,"z":0.030,"ma":0.542},{"m":"等效沙砾模型","i":69,"z":0.015,"ma":0.531},
      {"m":"等效沙砾模型","i":70,"z":0.008,"ma":0.536},{"m":"等效沙砾模型","i":71,"z":0.004,"ma":0.545},{"m":"等效沙砾模型","i":72,"z":0.002,"ma":0.57}
    ]
  },
  "vconcat": [
    {
      "width": 1298,
      "height": 1115,
      "title": {"text": "(a) i=−5°", "orient": "bottom", "offset": 21},
      "data": {"name": "pa"},
      "resolve": {"axis": {"x": "independent", "y": "independent"}},
      "layer": [
        {
          "mark": {"type": "line", "strokeJoin": "round"},
          "encoding": {
            "x": {"field": "z", "type": "quantitative", "scale": {"domain": [-0.1, 1.1], "nice": false, "zero": false},
                  "axis": {"orient": "bottom", "values": [0, 0.2, 0.4, 0.6, 0.8, 1.0], "tickSize": -16, "labelPadding": 39,
                           "labelExpr": "datum.value === 0 ? '0' : format(datum.value, '.1f')",
                           "title": "z/C", "titleY": 125, "titleBaseline": "middle"}},
            "y": {"field": "ma", "type": "quantitative", "scale": {"domain": [0, 1], "nice": false, "zero": false},
                  "axis": {"orient": "left", "values": [0, 0.2, 0.4, 0.6, 0.8, 1.0], "tickSize": -16, "labelPadding": 49,
                           "labelExpr": "datum.value === 0 ? '0' : format(datum.value, '.1f')",
                           "title": "Maᵢₛ", "titleX": -193, "titleY": 557, "titleBaseline": "middle", "titleAlign": "center", "titleFontSize": 66}},
            "color": {"field": "m", "type": "nominal",
                      "scale": {"domain": ["粗糙积垢模型", "等效沙砾模型"], "range": ["#000000", "#ff0000"]},
                      "legend": {"legendX": 548, "legendY": 82}},
            "strokeWidth": {"field": "m", "type": "nominal",
                            "scale": {"domain": ["粗糙积垢模型", "等效沙砾模型"], "range": [3.6, 4.2]}, "legend": null},
            "order": {"field": "i", "type": "quantitative"}
          }
        },
        {
          "mark": {"type": "point", "opacity": 0},
          "encoding": {
            "x": {"field": "z", "type": "quantitative",
                  "axis": {"orient": "bottom", "values": [0.1, 0.3, 0.5, 0.7, 0.9], "tickSize": -12, "labels": false, "title": null}},
            "y": {"field": "ma", "type": "quantitative",
                  "axis": {"orient": "left", "values": [0.1, 0.3, 0.5, 0.7, 0.9], "tickSize": -12, "labels": false, "title": null}}
          }
        }
      ]
    },
    {
      "width": 1298,
      "height": 1122,
      "title": {"text": "(b) i=0°", "orient": "bottom", "offset": 27},
      "data": {"name": "pb"},
      "resolve": {"axis": {"x": "independent", "y": "independent"}},
      "layer": [
        {
          "mark": {"type": "line", "strokeJoin": "round"},
          "encoding": {
            "x": {"field": "z", "type": "quantitative", "scale": {"domain": [-0.1, 1.1], "nice": false, "zero": false},
                  "axis": {"orient": "bottom", "values": [0, 0.2, 0.4, 0.6, 0.8, 1.0], "tickSize": -16, "labelPadding": 54,
                           "labelExpr": "datum.value === 0 ? '0' : format(datum.value, '.1f')",
                           "title": "z/C", "titleY": 142, "titleBaseline": "middle"}},
            "y": {"field": "ma", "type": "quantitative", "scale": {"domain": [0, 1], "nice": false, "zero": false},
                  "axis": {"orient": "left", "values": [0, 0.2, 0.4, 0.6, 0.8, 1.0], "tickSize": -16, "labelPadding": 49,
                           "labelExpr": "datum.value === 0 ? '0' : format(datum.value, '.1f')",
                           "title": "Maᵢₛ", "titleX": -193, "titleY": 575, "titleBaseline": "middle", "titleAlign": "center", "titleFontSize": 66}},
            "color": {"field": "m", "type": "nominal",
                      "scale": {"domain": ["粗糙积垢模型", "等效沙砾模型"], "range": ["#000000", "#ff0000"]},
                      "legend": {"legendX": 432, "legendY": 92}},
            "strokeWidth": {"field": "m", "type": "nominal",
                            "scale": {"domain": ["粗糙积垢模型", "等效沙砾模型"], "range": [3.6, 4.2]}, "legend": null},
            "order": {"field": "i", "type": "quantitative"}
          }
        },
        {
          "mark": {"type": "point", "opacity": 0},
          "encoding": {
            "x": {"field": "z", "type": "quantitative",
                  "axis": {"orient": "bottom", "values": [0.1, 0.3, 0.5, 0.7, 0.9], "tickSize": -12, "labels": false, "title": null}},
            "y": {"field": "ma", "type": "quantitative",
                  "axis": {"orient": "left", "values": [0.1, 0.3, 0.5, 0.7, 0.9], "tickSize": -12, "labels": false, "title": null}}
          }
        }
      ]
    }
  ]
}
